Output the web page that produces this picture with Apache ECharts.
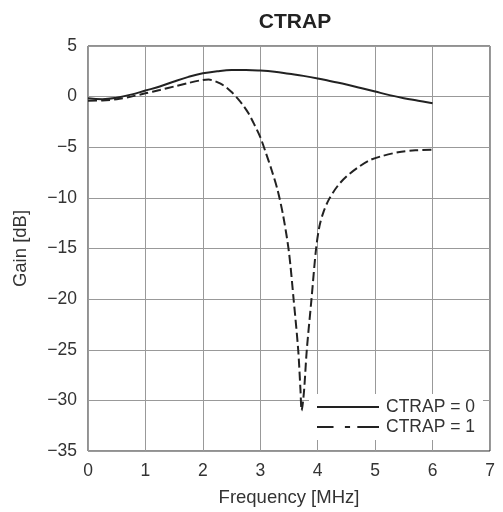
<!DOCTYPE html>
<html>
<head>
<meta charset="utf-8">
<script src="https://cdn.jsdelivr.net/npm/echarts@6/dist/echarts.min.js"></script>
<style>html,body{margin:0;padding:0;background:#fff}#c{width:503px;height:512px}</style>
</head>
<body>
<div id="c"></div>
<script>
var titleText = 'CTRAP';
var xName = 'Frequency [MHz]';
var yName = 'Gain [dB]';
var seriesNames = ['CTRAP = 0', 'CTRAP = 1'];
var xTicks = [0, 1, 2, 3, 4, 5, 6, 7];
var yTicks = [5, 0, -5, -10, -15, -20, -25, -30, -35];

var freq0 = [0, 0.25, 0.5, 0.75, 1, 1.25, 1.5, 1.75, 2, 2.25, 2.5, 2.75, 3, 3.25, 3.5, 3.75, 4, 4.25, 4.5, 4.75, 5, 5.25, 5.5, 5.75, 6];
var gain0 = [-0.15, -0.25, -0.1, 0.2, 0.6, 1.0, 1.5, 1.95, 2.3, 2.5, 2.62, 2.63, 2.57, 2.45, 2.25, 2.05, 1.8, 1.5, 1.2, 0.85, 0.5, 0.15, -0.15, -0.4, -0.65];

var freq1 = [0, 0.25, 0.5, 0.75, 1, 1.25, 1.5, 1.75, 2, 2.1, 2.2, 2.3, 2.4, 2.5, 2.6, 2.7, 2.8, 2.9, 3.0, 3.1, 3.2, 3.3, 3.4, 3.5, 3.58, 3.66, 3.7, 3.72, 3.76, 3.81, 3.89, 3.97, 4.03, 4.1, 4.2, 4.35, 4.5, 4.7, 4.9, 5.1, 5.4, 5.7, 6.0];
var gain1 = [-0.4, -0.38, -0.25, 0.0, 0.33, 0.65, 1.0, 1.35, 1.65, 1.68, 1.55, 1.3, 0.95, 0.45, -0.15, -0.85, -1.7, -2.8, -4.0, -5.6, -7.3, -9.2, -11.8, -15.4, -20, -25, -29, -31, -29.2, -25, -20.1, -15.1, -12.8, -11.4, -10.1, -8.8, -7.9, -7.0, -6.3, -5.9, -5.5, -5.3, -5.25];

function minus(v) { return String(v).replace('-', '\u2212'); }
function zip(a, b) { return a.map(function (x, i) { return [x, b[i]]; }); }

var chart = echarts.init(document.getElementById('c'), null, {renderer: 'canvas'});
var font = 'Liberation Sans, Arial, sans-serif';
var solidIcon = 'path://M0,0h60v2h-60z';
var dashDotIcon = 'path://M0,0h16v2h-16zM27,0h5v2h-5zM39,0h21v2h-21z';
chart.setOption({
  animation: false,
  backgroundColor: '#fff',
  title: {
    text: titleText, left: 290, top: 7, textAlign: 'center',
    textStyle: {fontFamily: font, fontWeight: 'bold', fontSize: 21, color: '#222'}
  },
  grid: {left: 88, right: 13, top: 46, bottom: 61, show: true, borderColor: '#222', borderWidth: 1, backgroundColor: 'transparent'},
  xAxis: {
    type: 'value', min: xTicks[0], max: xTicks[xTicks.length - 1], interval: 1,
    name: xName, nameLocation: 'middle', nameGap: 37,
    nameTextStyle: {fontFamily: font, fontSize: 18.5, color: '#333'},
    axisLine: {show: false}, axisTick: {show: false},
    axisLabel: {fontFamily: font, fontSize: 17.5, color: '#333', margin: 11, formatter: function (v) { return minus(v); }},
    splitLine: {show: true, lineStyle: {color: '#999', width: 1}}
  },
  yAxis: {
    type: 'value', min: yTicks[yTicks.length - 1], max: yTicks[0], interval: 5,
    name: yName, nameLocation: 'middle', nameGap: 58, nameRotate: 90,
    nameTextStyle: {fontFamily: font, fontSize: 18.5, color: '#333'},
    axisLine: {show: false}, axisTick: {show: false},
    axisLabel: {fontFamily: font, fontSize: 17.5, color: '#333', margin: 11, formatter: function (v) { return minus(v); }},
    splitLine: {show: true, lineStyle: {color: '#999', width: 1}}
  },
  legend: {
    orient: 'vertical', left: 309, top: 394,
    backgroundColor: '#fff', padding: [4, 8, 4, 8],
    itemWidth: 62, itemHeight: 14, itemGap: 2,
    textStyle: {fontFamily: font, fontSize: 17.5, color: '#333', padding: [0, 0, 0, 2]},
    data: [
      {name: seriesNames[0], icon: solidIcon, itemStyle: {color: '#222'}},
      {name: seriesNames[1], icon: dashDotIcon, itemStyle: {color: '#222'}}
    ]
  },
  series: [
    {
      name: seriesNames[0], type: 'line', smooth: 0.4, symbol: 'none',
      data: zip(freq0, gain0),
      lineStyle: {color: '#222', width: 2}, itemStyle: {color: '#222'}, z: 3
    },
    {
      name: seriesNames[1], type: 'line', smooth: 0.3, symbol: 'none',
      data: zip(freq1, gain1),
      lineStyle: {color: '#222', width: 2, type: [9, 4]}, itemStyle: {color: '#222'}, z: 3
    }
  ]
});
</script>
</body>
</html>
